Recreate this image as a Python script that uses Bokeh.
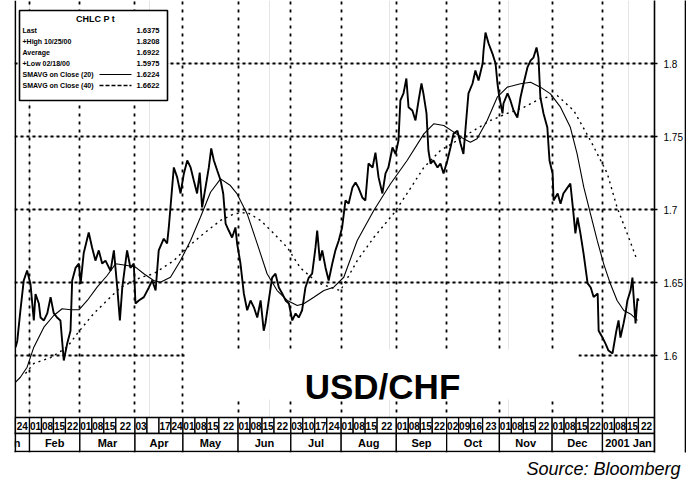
import pandas as pd
from bokeh.plotting import figure
from bokeh.models import (Range1d, LinearAxis, FixedTicker, Grid, BoxAnnotation,
                          Label, Span, Title)
from bokeh.core.properties import value
from bokeh.embed import file_html
from bokeh.resources import INLINE

# ---------------- data ----------------
# x = trading days counted from 2000-02-01 (weekdays only, as on the Bloomberg axis)
close_day = [-5.8, -5.1, -3.8, -2.4, -1.0, 0.4, 1.8, 2.5, 3.9, 4.6, 6.0, 7.4, 8.8, 10.1,
             11.5, 12.9, 14.3, 15.7, 17.1, 17.8, 19.2, 20.6, 21.3, 22.6, 24.7, 26.1, 27.5,
             28.9, 30.3, 31.7, 33.8, 35.2, 36.6, 37.7, 38.7, 40.7, 42.1, 43.5, 44.2, 45.6,
             47.7, 49.8, 51.2, 52.6, 53.9, 56.0, 57.4, 58.1, 58.8, 60.2, 61.6, 63.0, 64.4,
             65.8, 67.2, 68.5, 69.9, 71.0, 72.0, 73.4, 74.8, 75.8, 76.9, 78.3, 79.7, 80.8,
             81.8, 83.1, 84.5, 85.9, 86.6, 88.0, 89.4, 90.8, 92.2, 93.6, 95.0, 96.4, 97.7,
             98.4, 99.8, 101.2, 102.6, 104.0, 105.4, 106.8, 108.2, 109.6, 111.0, 112.3,
             113.7, 115.1, 116.5, 117.9, 119.3, 120.0, 121.1, 122.1, 123.5, 124.8, 126.3,
             127.6, 129.0, 130.4, 131.8, 133.1, 134.7, 136.0, 137.2, 138.9, 140.1, 141.4,
             143.1, 144.3, 145.6, 147.2, 148.5, 149.7, 151.4, 152.7, 153.9, 154.7, 156.0,
             157.2, 158.1, 159.7, 161.0, 162.3, 163.5, 164.3, 165.6, 166.4, 167.3, 168.5,
             170.2, 171.4, 172.7, 174.3, 175.6, 176.9, 178.5, 179.8, 181.0, 181.9, 183.1,
             184.8, 186.0, 187.3, 189.0, 189.4, 190.2, 191.5, 193.1, 194.4, 195.2, 196.0,
             197.3, 197.7, 199.4, 200.6, 201.9, 203.5, 204.8, 206.1, 207.7, 209.0, 210.2,
             211.5, 212.3, 213.1, 214.4, 216.0, 216.9, 218.2, 218.6, 220.3, 221.5, 222.7,
             224.4, 225.6, 226.9, 227.7, 228.6, 229.8, 231.1, 232.8, 234.1, 235.3, 237.0,
             237.4, 239.0, 240.3, 241.5, 243.2, 243.6, 244.8, 245.7, 246.5, 247.8, 248.6,
             249.4, 250.7, 251.5, 251.9, 252.8, 253.2, 253.6, 254.1]
close_px = [1.6057, 1.6100, 1.6308, 1.6514, 1.6582, 1.6490, 1.6240, 1.6420, 1.6356, 1.6260,
            1.6240, 1.6288, 1.6400, 1.6290, 1.6260, 1.6240, 1.5966, 1.6080, 1.6170, 1.6514,
            1.6600, 1.6630, 1.6490, 1.6700, 1.6843, 1.6740, 1.6650, 1.6720, 1.6630, 1.6650,
            1.6580, 1.6720, 1.6466, 1.6240, 1.6466, 1.6720, 1.6600, 1.6630, 1.6356, 1.6377,
            1.6400, 1.6466, 1.6514, 1.6445, 1.6720, 1.6800, 1.6767, 1.6877, 1.7014, 1.7288,
            1.7220, 1.7110, 1.7247, 1.7336, 1.7288, 1.7200, 1.7110, 1.7253, 1.7014, 1.7150,
            1.7288, 1.7418, 1.7336, 1.7267, 1.7200, 1.7110, 1.6904, 1.6856, 1.6808, 1.6877,
            1.6767, 1.6630, 1.6425, 1.6310, 1.6377, 1.6330, 1.6260, 1.6377, 1.6170, 1.6220,
            1.6377, 1.6534, 1.6560, 1.6466, 1.6425, 1.6377, 1.6356, 1.6240, 1.6288, 1.6260,
            1.6310, 1.6466, 1.6534, 1.6560, 1.6740, 1.6856, 1.6650, 1.6720, 1.6600, 1.6514,
            1.6630, 1.6720, 1.6788, 1.6877, 1.7062, 1.7040, 1.7150, 1.7185, 1.7150, 1.7080,
            1.7062, 1.7315, 1.7288, 1.7390, 1.7220, 1.7110, 1.7247, 1.7288, 1.7425, 1.7380,
            1.7473, 1.7747, 1.7795, 1.7897, 1.7700, 1.7678, 1.7610, 1.7747, 1.7863, 1.7795,
            1.7658, 1.7404, 1.7315, 1.7336, 1.7288, 1.7315, 1.7247, 1.7336, 1.7425, 1.7520,
            1.7540, 1.7450, 1.7380, 1.7560, 1.7795, 1.7863, 1.7952, 1.7884, 1.8000, 1.8089,
            1.8212, 1.8137, 1.8068, 1.8000, 1.7863, 1.7767, 1.7658, 1.7726, 1.7795, 1.7747,
            1.7678, 1.7630, 1.7767, 1.7863, 1.7973, 1.8020, 1.8040, 1.8110, 1.8040, 1.7767,
            1.7658, 1.7562, 1.7336, 1.7247, 1.7062, 1.7110, 1.7040, 1.7110, 1.7150, 1.7178,
            1.6973, 1.6836, 1.6945, 1.6836, 1.6700, 1.6494, 1.6466, 1.6400, 1.6425, 1.6170,
            1.6123, 1.6080, 1.6034, 1.6014, 1.6055, 1.6170, 1.6240, 1.6123, 1.6220, 1.6288,
            1.6377, 1.6445, 1.6534, 1.6425, 1.6220, 1.6310, 1.6390, 1.6375]

ma20_day = [-5.8, -3.8, -1.0, 1.8, 6.0, 10.1, 13.6, 17.1, 20.6, 24.1, 28.2, 32.4, 35.9,
            40.8, 44.2, 47.7, 51.8, 54.6, 58.8, 63.0, 67.2, 71.3, 75.5, 79.7, 83.8, 86.6,
            90.8, 95.0, 99.1, 103.3, 107.5, 111.7, 114.4, 118.6, 122.8, 126.9, 131.1,
            136.7, 143.6, 150.6, 157.5, 164.5, 168.6, 172.8, 177.0, 181.1, 183.9, 186.7,
            190.9, 195.1, 199.3, 204.8, 209.0, 213.1, 217.3, 221.5, 225.6, 228.4, 231.2,
            234.0, 236.8, 239.5, 242.3, 245.1, 247.9, 250.7, 253.6]
ma20_px = [1.5817, 1.5851, 1.5920, 1.6057, 1.6194, 1.6274, 1.6320, 1.6313, 1.6313, 1.6377,
           1.6468, 1.6548, 1.6628, 1.6616, 1.6605, 1.6560, 1.6514, 1.6502, 1.6536, 1.6651,
           1.6788, 1.6947, 1.7118, 1.7210, 1.7164, 1.7107, 1.6970, 1.6765, 1.6560, 1.6445,
           1.6377, 1.6342, 1.6354, 1.6399, 1.6445, 1.6468, 1.6536, 1.6788, 1.6993, 1.7176,
           1.7336, 1.7518, 1.7587, 1.7575, 1.7530, 1.7484, 1.7461, 1.7484, 1.7610, 1.7769,
           1.7838, 1.7861, 1.7872, 1.7838, 1.7792, 1.7701, 1.7563, 1.7382, 1.7153, 1.6970,
           1.6788, 1.6628, 1.6491, 1.6377, 1.6308, 1.6285, 1.6240]

ma40_day = [-1.7, 1.8, 8.8, 15.7, 19.9, 26.8, 33.8, 38.0, 46.3, 51.8, 60.2, 65.8, 72.7,
            79.7, 85.2, 90.8, 96.4, 101.9, 107.5, 113.0, 120.0, 126.9, 129.7, 136.7, 143.6,
            151.9, 157.5, 164.5, 171.4, 178.4, 185.3, 192.3, 199.3, 206.2, 213.1, 220.1,
            227.0, 234.0, 241.0, 245.1, 249.3, 253.5]
ma40_px = [1.5877, 1.5945, 1.5986, 1.6057, 1.6150, 1.6288, 1.6400, 1.6466, 1.6534, 1.6560,
           1.6650, 1.6740, 1.6836, 1.6925, 1.6970, 1.6980, 1.6925, 1.6836, 1.6740, 1.6600,
           1.6500, 1.6459, 1.6445, 1.6650, 1.6808, 1.6973, 1.7110, 1.7288, 1.7404, 1.7473,
           1.7541, 1.7610, 1.7658, 1.7700, 1.7760, 1.7781, 1.7678, 1.7473, 1.7247, 1.7014,
           1.6836, 1.6650]

price_ticks = [1.6, 1.65, 1.7, 1.75, 1.8]
price_tick_labels = ["1.6", "1.65", "1.7", "1.75", "1.8"]

week_dates = ["2000-01-24",
              "2000-02-01", "2000-02-08", "2000-02-15", "2000-02-22",
              "2000-03-01", "2000-03-08", "2000-03-15", "2000-03-22",
              "2000-04-03", "2000-04-10", "2000-04-17", "2000-04-24",
              "2000-05-01", "2000-05-08", "2000-05-15", "2000-05-22",
              "2000-06-01", "2000-06-08", "2000-06-15", "2000-06-22",
              "2000-07-03", "2000-07-10", "2000-07-17", "2000-07-24",
              "2000-08-01", "2000-08-08", "2000-08-15", "2000-08-22",
              "2000-09-01", "2000-09-08", "2000-09-15", "2000-09-22",
              "2000-10-02", "2000-10-09", "2000-10-16", "2000-10-23",
              "2000-11-01", "2000-11-08", "2000-11-15", "2000-11-22",
              "2000-12-01", "2000-12-08", "2000-12-15", "2000-12-22",
              "2001-01-01", "2001-01-08", "2001-01-15", "2001-01-22"]
week_labels = ["24",
               "01", "08", "15", "22", "01", "08", "15", "22", "03", "", "17", "24",
               "01", "08", "15", "22", "01", "08", "15", "22", "03", "10", "17", "24",
               "01", "08", "15", "22", "01", "08", "15", "22", "02", "09", "16", "23",
               "01", "08", "15", "22", "01", "08", "15", "22", "01", "08", "15", "22"]

month_dates = ["2000-01-03", "2000-02-01", "2000-03-01", "2000-04-03", "2000-05-01",
               "2000-06-01", "2000-07-03", "2000-08-01", "2000-09-01", "2000-10-02",
               "2000-11-01", "2000-12-01", "2001-01-01"]
month_labels = ["Jan", "Feb", "Mar", "Apr", "May", "Jun", "Jul", "Aug", "Sep", "Oct",
                "Nov", "Dec", "2001 Jan"]

legend_title = "CHLC P t"
legend_rows = ["Last", "+High 10/25/00", "Average", "+Low 02/18/00",
               "SMAVG on Close (20)", "SMAVG on Close (40)"]
legend_values = ["1.6375", "1.8208", "1.6922", "1.5975", "1.6224", "1.6622"]

# ---------------- calendar (weekday axis) ----------------
bdays = pd.bdate_range("2000-01-03", "2001-02-28")
origin = bdays.get_loc(pd.Timestamp("2000-02-01"))


def tday(s):
    return bdays.get_loc(pd.Timestamp(s)) - origin


# ---------------- geometry ----------------
X0, X1 = -6.26, 260.7
PXU = 1460.0          # pixels per price unit
FRAME_LEFT = 14       # page x of frame left
FRAME_RIGHT = 654     # page x of frame right
FRAME_BOT = 452       # page y of frame bottom
Y1 = 1.8 + 63 / PXU   # price at page y = 0
Y0 = Y1 - FRAME_BOT / PXU
W, H = 686, 486


def yy(page_y):
    return Y1 - page_y / PXU


def sx(page_x):
    return page_x - FRAME_LEFT


def sy(page_y):
    return FRAME_BOT - page_y


FONT = "Liberation Sans"

p = figure(width=W, height=H, x_range=Range1d(X0, X1), y_range=Range1d(Y0, Y1),
           output_backend="svg", toolbar_location=None,
           x_axis_location=None, y_axis_location=None,
           min_border_left=FRAME_LEFT, min_border_right=W - FRAME_RIGHT,
           min_border_top=0, min_border_bottom=H - FRAME_BOT,
           outline_line_color=None, background_fill_color="white",
           border_fill_color="white")

# right price axis
yax = LinearAxis(ticker=FixedTicker(ticks=price_ticks),
                 major_label_overrides=dict(zip(price_ticks, price_tick_labels)),
                 axis_line_color="black", axis_line_width=1.6,
                 major_tick_in=3, major_tick_out=3, major_tick_line_width=1.3,
                 major_tick_line_color="black", minor_tick_line_color=None,
                 major_label_standoff=6, major_label_text_font_size="10px",
                 major_label_text_font=FONT, major_label_text_color="black")
p.add_layout(yax, "right")
# outer border of the price-scale box
box_ax = LinearAxis(ticker=FixedTicker(ticks=[]), axis_line_color="black",
                    axis_line_width=1.6, major_tick_line_color=None,
                    minor_tick_line_color=None, major_label_text_font_size="0px",
                    major_label_standoff=0, major_tick_in=0, major_tick_out=0)
p.add_layout(box_ax, "right")

# dotted grids
month_idx = [tday(d) for d in month_dates]
vgrid = Grid(dimension=0, ticker=FixedTicker(ticks=month_idx[1:]),
             grid_line_color="black", grid_line_dash="3 5", grid_line_width=1.8)
hgrid = Grid(dimension=1, ticker=FixedTicker(ticks=price_ticks),
             grid_line_color="black", grid_line_dash="3 3", grid_line_width=1.8)
p.add_layout(vgrid, "center")
p.add_layout(hgrid, "center")

# moving averages and price
p.line(ma40_day, ma40_px, line_color="black", line_width=1.4, line_dash="2 4")
p.line(ma20_day, ma20_px, line_color="black", line_width=1.1)
p.line(close_day, close_px, line_color="black", line_width=1.9)

# date axis rows
ROW_TOP, ROW_MID, ROW_BOT = yy(417), yy(433), yy(451)
wk_idx = [tday(d) for d in week_dates]
wk_end = wk_idx[1:] + [X1]
p.quad(left=wk_idx, right=wk_end, top=ROW_TOP, bottom=ROW_MID,
       fill_color="white", line_color="black", line_width=1.3)
p.text(x=[(a + b) / 2 for a, b in zip(wk_idx, wk_end)], y=(ROW_TOP + ROW_MID) / 2,
       text=week_labels, text_align="center", text_baseline="middle",
       text_font=value(FONT), text_font_style="bold", text_font_size="10px",
       text_color="black")
mo_end = month_idx[1:] + [X1]
p.quad(left=month_idx, right=mo_end, top=ROW_MID, bottom=ROW_BOT,
       fill_color="white", line_color="black", line_width=1.3)
mo_center = [X0 - 1.5] + [(a + b) / 2 for a, b in zip(month_idx[1:], mo_end[1:])]
p.text(x=mo_center, y=(ROW_MID + ROW_BOT) / 2, text=month_labels,
       text_align="center", text_baseline="middle",
       text_font=value(FONT), text_font_style="bold", text_font_size="11px",
       text_color="black")

# left edge line
p.add_layout(Span(location=X0 + 0.3, dimension="height", line_color="black",
                  line_width=1.8))


def sbox(l, r, t, b, **kw):
    return BoxAnnotation(left=sx(l), right=sx(r), top=sy(t), bottom=sy(b),
                         left_units="screen", right_units="screen",
                         top_units="screen", bottom_units="screen", **kw)


# legend box
p.add_layout(sbox(19, 167, 10, 100, fill_color="white", fill_alpha=1,
                  line_color="black", line_width=1.6, line_alpha=1))
p.add_layout(Label(x=sx(95), y=sy(18), x_units="screen", y_units="screen",
                   text=legend_title, text_align="center", text_baseline="middle",
                   text_font=FONT, text_font_style="bold", text_font_size="9px",
                   text_color="black"))
row_y = [30, 41, 52, 63, 74, 85]
for i, (lab, val) in enumerate(zip(legend_rows, legend_values)):
    p.add_layout(Label(x=sx(22), y=sy(row_y[i]), x_units="screen", y_units="screen",
                       text=lab, text_align="left", text_baseline="middle",
                       text_font=FONT, text_font_style="bold", text_font_size="7px",
                       text_color="black"))
    p.add_layout(Label(x=sx(159), y=sy(row_y[i]), x_units="screen", y_units="screen",
                       text=val, text_align="right", text_baseline="middle",
                       text_font=FONT, text_font_style="bold", text_font_size="7.5px",
                       text_color="black"))
# legend line samples
p.add_layout(sbox(99, 131, row_y[4], row_y[4], fill_color=None, fill_alpha=0,
                  line_color="black", line_width=1.1, line_alpha=1))
p.add_layout(sbox(99, 131, row_y[5], row_y[5], fill_color=None, fill_alpha=0,
                  line_color="black", line_width=1.3, line_alpha=1, line_dash="2 4"))

# USD/CHF title on a white band
p.add_layout(sbox(184, 578, 349, 399, fill_color="white", fill_alpha=1, line_color=None))
p.add_layout(Label(x=sx(382), y=sy(386), x_units="screen", y_units="screen",
                   text="USD/CHF", text_align="center", text_baseline="alphabetic",
                   text_font=FONT, text_font_style="bold", text_font_size="35px",
                   text_color="black"))

# source note
p.add_layout(Title(text="Source: Bloomberg", align="right", offset=-(680 - FRAME_RIGHT),
                   text_font=FONT, text_font_style="italic", text_font_size="18px",
                   text_color="black", standoff=9), "below")

open("out.html", "w").write(file_html(p, INLINE))
